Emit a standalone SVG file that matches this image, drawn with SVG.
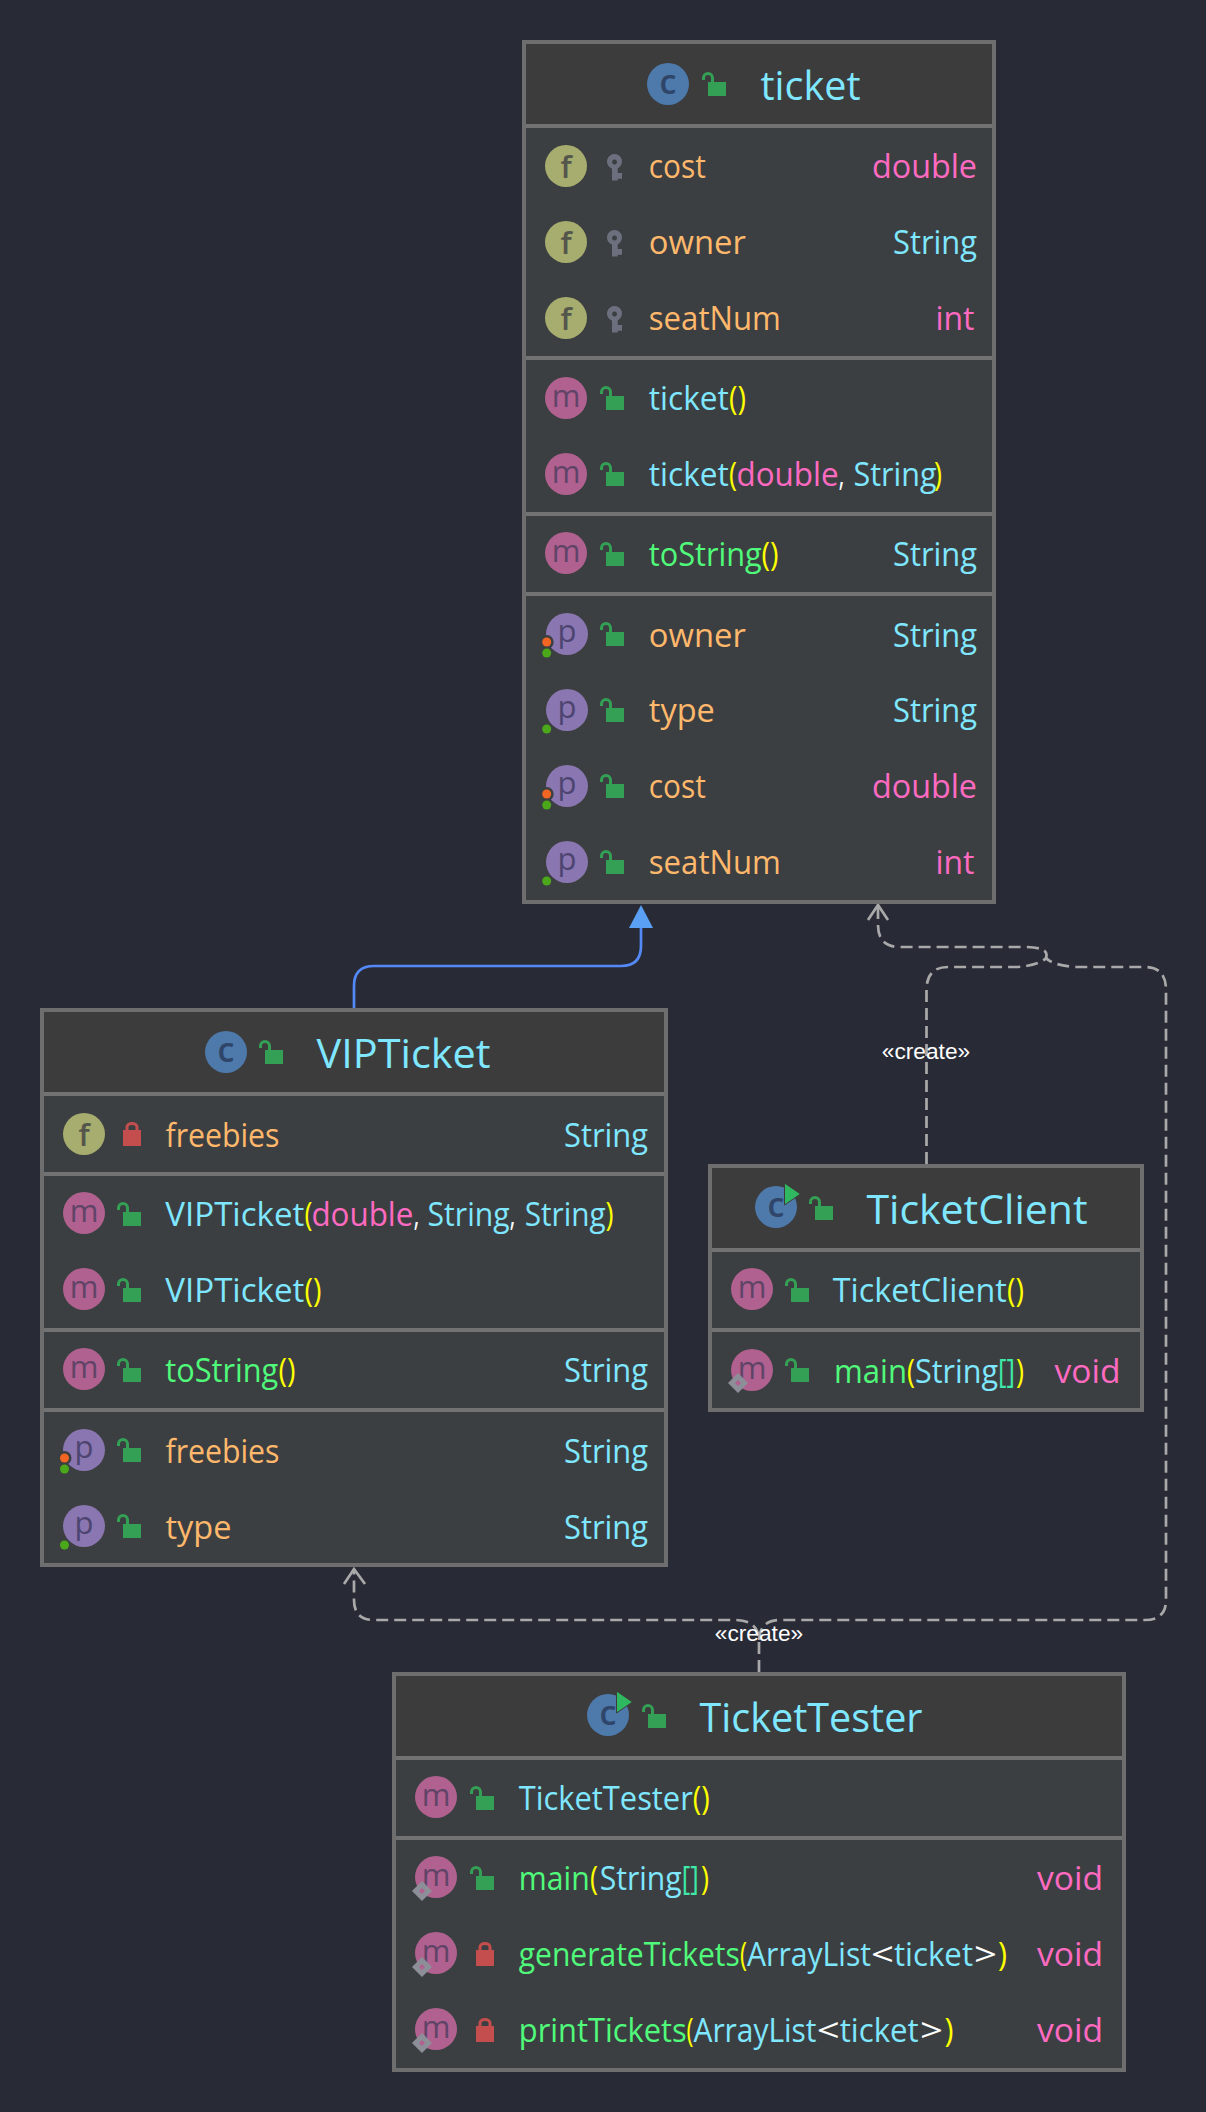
<svg xmlns="http://www.w3.org/2000/svg" width="1206" height="2112" viewBox="0 0 1206 2112">
<style>
text{font-family:"Open Sans","Noto Sans","Liberation Sans",sans-serif}
.box{fill:#3c3f41;stroke:#6e6e6e;stroke-width:4}
.hd{fill:#3c3c3c}
.dv{fill:#727272}
.b{font-size:33px}
.h{font-size:41px}
.ty{fill:#7fe7ff}
.pr{fill:#ff6ac1}
.fn{fill:#ffb86c}
.me{fill:#50fa7b}
.pa{fill:#ffff00}
.br{fill:#3de8a8}
.wh{fill:#ffffff}
.ci{font-size:31px;text-anchor:middle}
.cC{fill:#4d79ab}.lC{fill:#2f4569;font-size:34px;font-weight:600}
.cF{fill:#a6ad6e}.lF{fill:#54564c;font-weight:600}
.cM{fill:#b0618f}.lM{fill:#5f4468}
.cP{fill:#8a76b0}.lP{fill:#4d4470}
.lbl{font-family:"Liberation Sans",Arial,sans-serif;font-size:22.7px;fill:#ffffff;text-anchor:middle}
.dash{fill:none;stroke:#a9a9a9;stroke-width:2.7;stroke-dasharray:12 6}
.arr{fill:none;stroke:#a9a9a9;stroke-width:2.7}
.ext{fill:none;stroke:#548af7;stroke-width:2.7}
</style>
<defs>
<g id="open"><rect x="6" y="10" width="18" height="14" fill="#34a055"/><path d="M1.5,8V6a4.5,4.5 0 0 1 9,0V10" fill="none" stroke="#34a055" stroke-width="3"/></g>
<g id="priv"><rect x="0" y="8" width="18" height="16" fill="#c44d4d"/><path d="M4,8V5a5,3.6 0 0 1 10,0V8" fill="none" stroke="#c44d4d" stroke-width="3"/></g>
<g id="key"><path fill-rule="evenodd" fill="#6c707e" d="M7.5,0a7.5,7.5 0 1 1 -0.01,0ZM7.5,5.5a2.5,2.5 0 1 0 0.01,0Z"/><path fill="#6c707e" d="M5,14H10.7V19H15V24.7H10.7V26.5H5Z"/></g>
<g id="stat"><path d="M0,-10L10,0L0,10L-10,0Z" fill="#8c8f98"/><path d="M0,-3L3,0L0,3L-3,0Z" fill="#b0618f"/></g>
<g id="run"><path d="M-0.5,-1L15.5,10L-0.5,21Z" fill="#2fb85f" stroke="#3c3c3c" stroke-width="1"/></g>
<g id="get"><circle cx="0" cy="0" r="4.5" fill="#4aa81a"/></g>
<g id="set"><circle cx="0" cy="0" r="7" fill="#3c3f41"/><circle cx="0" cy="0" r="4.5" fill="#f26522"/></g>
</defs>
<rect width="1206" height="2112" fill="#282a36"/>
<g id="connectors">
<path class="ext" d="M354,1008V986Q354,966 374,966H621Q641,966 641,946V926"/>
<path d="M641,905L653,928H629Z" fill="#5aa0f5"/>
<path class="dash" d="M926.5,1164V990Q926.5,967 948,967H1018Q1040,965 1046,958Q1050,947 1025,947H900Q878,947 878,925V906"/>
<path class="dash" d="M759,1672V1640Q758,1620 735,1620H374Q354,1620 354,1600V1569"/>
<path class="dash" d="M759,1640Q760,1620 780,1620H1145Q1166,1620 1166,1600V990Q1166,967 1145,967H1075Q1052,965 1046,958"/>
<path class="arr" d="M868,920L878,905L888,920"/>
<path class="arr" d="M344,1584L354,1569L365,1584"/>
<text class="lbl" x="926" y="1059">«create»</text>
<text class="lbl" x="759" y="1641">«create»</text>
</g>

<g id="ticket">
<rect class="box" x="524" y="42" width="470" height="860"/>
<rect class="hd" x="526" y="44" width="466" height="80"/>
<rect class="dv" x="526" y="124" width="466" height="4"/>
<rect class="dv" x="526" y="356" width="466" height="4"/>
<rect class="dv" x="526" y="512" width="466" height="4"/>
<rect class="dv" x="526" y="592" width="466" height="4"/>
<circle class="cC" cx="668" cy="84" r="21"/><text class="ci lC" x="668" y="94">c</text>
<use href="#open" x="702" y="72"/>
<text class="h ty" x="760.5" y="100" textLength="100" lengthAdjust="spacingAndGlyphs">ticket</text>
<circle class="cF" cx="566" cy="166" r="21"/><text class="ci lF" x="566" y="178">f</text><use href="#key" x="607" y="154"/>
<text class="b fn" x="648.8" y="178" textLength="57" lengthAdjust="spacingAndGlyphs">cost</text>
<text class="b pr" x="872" y="178" textLength="105" lengthAdjust="spacingAndGlyphs">double</text>
<circle class="cF" cx="566" cy="242" r="21"/><text class="ci lF" x="566" y="254">f</text><use href="#key" x="607" y="230"/>
<text class="b fn" x="648.8" y="254" textLength="97" lengthAdjust="spacingAndGlyphs">owner</text>
<text class="b ty" x="893" y="254" textLength="84" lengthAdjust="spacingAndGlyphs">String</text>
<circle class="cF" cx="566" cy="318" r="21"/><text class="ci lF" x="566" y="330">f</text><use href="#key" x="607" y="306"/>
<text class="b fn" x="648.8" y="330" textLength="132" lengthAdjust="spacingAndGlyphs">seatNum</text>
<text class="b pr" x="935.5" y="330" textLength="39" lengthAdjust="spacingAndGlyphs">int</text>
<circle class="cM" cx="566" cy="398" r="21"/><text class="ci lM" x="566" y="407">m</text><use href="#open" x="600" y="386"/>
<text class="b ty" x="648.8" y="410" textLength="80" lengthAdjust="spacingAndGlyphs">ticket</text>
<text class="b pa" x="729" y="410" textLength="17" lengthAdjust="spacingAndGlyphs">()</text>
<circle class="cM" cx="566" cy="474" r="21"/><text class="ci lM" x="566" y="483">m</text><use href="#open" x="600" y="462"/>
<text class="b ty" x="648.8" y="486" textLength="80" lengthAdjust="spacingAndGlyphs">ticket</text>
<text class="b pa" x="729" y="486" textLength="8" lengthAdjust="spacingAndGlyphs">(</text>
<text class="b pr" x="736.5" y="486" textLength="102" lengthAdjust="spacingAndGlyphs">double</text>
<text class="b wh" x="838.5" y="486" textLength="6" lengthAdjust="spacingAndGlyphs">,</text>
<text class="b ty" x="853.5" y="486" textLength="83" lengthAdjust="spacingAndGlyphs">String</text>
<text class="b pa" x="934" y="486" textLength="8" lengthAdjust="spacingAndGlyphs">)</text>
<circle class="cM" cx="566" cy="553" r="21"/><text class="ci lM" x="566" y="562">m</text><use href="#open" x="600" y="542"/>
<text class="b me" x="648.8" y="566" textLength="113" lengthAdjust="spacingAndGlyphs">toString</text>
<text class="b pa" x="761.5" y="566" textLength="17" lengthAdjust="spacingAndGlyphs">()</text>
<text class="b ty" x="893" y="566" textLength="84" lengthAdjust="spacingAndGlyphs">String</text>
<circle class="cP" cx="567" cy="634" r="21"/><text class="ci lP" x="567" y="642">p</text><use href="#set" x="546.7" y="642"/><use href="#get" x="546.7" y="653"/><use href="#open" x="600" y="622"/>
<text class="b fn" x="648.8" y="647" textLength="97" lengthAdjust="spacingAndGlyphs">owner</text>
<text class="b ty" x="893" y="647" textLength="84" lengthAdjust="spacingAndGlyphs">String</text>
<circle class="cP" cx="567" cy="710" r="21"/><text class="ci lP" x="567" y="718">p</text><use href="#get" x="546.7" y="729"/><use href="#open" x="600" y="698"/>
<text class="b fn" x="648.8" y="722" textLength="66" lengthAdjust="spacingAndGlyphs">type</text>
<text class="b ty" x="893" y="722" textLength="84" lengthAdjust="spacingAndGlyphs">String</text>
<circle class="cP" cx="567" cy="786" r="21"/><text class="ci lP" x="567" y="794">p</text><use href="#set" x="546.7" y="794"/><use href="#get" x="546.7" y="805"/><use href="#open" x="600" y="774"/>
<text class="b fn" x="648.8" y="798" textLength="57" lengthAdjust="spacingAndGlyphs">cost</text>
<text class="b pr" x="872" y="798" textLength="105" lengthAdjust="spacingAndGlyphs">double</text>
<circle class="cP" cx="567" cy="862" r="21"/><text class="ci lP" x="567" y="870">p</text><use href="#get" x="546.7" y="881"/><use href="#open" x="600" y="850"/>
<text class="b fn" x="648.8" y="874" textLength="132" lengthAdjust="spacingAndGlyphs">seatNum</text>
<text class="b pr" x="935.5" y="874" textLength="39" lengthAdjust="spacingAndGlyphs">int</text>
</g>

<g id="VIPTicket">
<rect class="box" x="42" y="1010" width="624" height="555"/>
<rect class="hd" x="44" y="1012" width="620" height="80"/>
<rect class="dv" x="44" y="1092" width="620" height="4"/>
<rect class="dv" x="44" y="1172" width="620" height="4"/>
<rect class="dv" x="44" y="1328" width="620" height="4"/>
<rect class="dv" x="44" y="1408" width="620" height="4"/>
<circle class="cC" cx="226" cy="1052" r="21"/><text class="ci lC" x="226" y="1062">c</text>
<use href="#open" x="259" y="1040"/>
<text class="h ty" x="316.5" y="1068" textLength="174" lengthAdjust="spacingAndGlyphs">VIPTicket</text>
<circle class="cF" cx="84" cy="1134" r="21"/><text class="ci lF" x="84" y="1146">f</text><use href="#priv" x="123" y="1122"/>
<text class="b fn" x="165.5" y="1147" textLength="114" lengthAdjust="spacingAndGlyphs">freebies</text>
<text class="b ty" x="564" y="1147" textLength="84" lengthAdjust="spacingAndGlyphs">String</text>
<circle class="cM" cx="84" cy="1213" r="21"/><text class="ci lM" x="84" y="1222">m</text><use href="#open" x="117" y="1202"/>
<text class="b ty" x="165.3" y="1226" textLength="139" lengthAdjust="spacingAndGlyphs">VIPTicket</text>
<text class="b pa" x="304.5" y="1226" textLength="8" lengthAdjust="spacingAndGlyphs">(</text>
<text class="b pr" x="311.4" y="1226" textLength="102" lengthAdjust="spacingAndGlyphs">double</text>
<text class="b wh" x="413.5" y="1226" textLength="6" lengthAdjust="spacingAndGlyphs">,</text>
<text class="b ty" x="427.6" y="1226" textLength="82" lengthAdjust="spacingAndGlyphs">String</text>
<text class="b wh" x="509.5" y="1226" textLength="6" lengthAdjust="spacingAndGlyphs">,</text>
<text class="b ty" x="524.7" y="1226" textLength="81" lengthAdjust="spacingAndGlyphs">String</text>
<text class="b pa" x="605.5" y="1226" textLength="8" lengthAdjust="spacingAndGlyphs">)</text>
<circle class="cM" cx="84" cy="1289" r="21"/><text class="ci lM" x="84" y="1298">m</text><use href="#open" x="117" y="1278"/>
<text class="b ty" x="165.3" y="1302" textLength="139" lengthAdjust="spacingAndGlyphs">VIPTicket</text>
<text class="b pa" x="304.5" y="1302" textLength="17" lengthAdjust="spacingAndGlyphs">()</text>
<circle class="cM" cx="84" cy="1369" r="21"/><text class="ci lM" x="84" y="1378">m</text><use href="#open" x="117" y="1358"/>
<text class="b me" x="165.3" y="1382" textLength="113" lengthAdjust="spacingAndGlyphs">toString</text>
<text class="b pa" x="278.5" y="1382" textLength="17" lengthAdjust="spacingAndGlyphs">()</text>
<text class="b ty" x="564" y="1382" textLength="84" lengthAdjust="spacingAndGlyphs">String</text>
<circle class="cP" cx="84" cy="1450" r="21"/><text class="ci lP" x="84" y="1458">p</text><use href="#set" x="64.5" y="1458"/><use href="#get" x="64.5" y="1469"/><use href="#open" x="117" y="1438"/>
<text class="b fn" x="165.5" y="1463" textLength="114" lengthAdjust="spacingAndGlyphs">freebies</text>
<text class="b ty" x="564" y="1463" textLength="84" lengthAdjust="spacingAndGlyphs">String</text>
<circle class="cP" cx="84" cy="1526" r="21"/><text class="ci lP" x="84" y="1534">p</text><use href="#get" x="64.5" y="1545"/><use href="#open" x="117" y="1514"/>
<text class="b fn" x="165.5" y="1539" textLength="66" lengthAdjust="spacingAndGlyphs">type</text>
<text class="b ty" x="564" y="1539" textLength="84" lengthAdjust="spacingAndGlyphs">String</text>
</g>

<g id="TicketClient">
<rect class="box" x="710" y="1166" width="432" height="244"/>
<rect class="hd" x="712" y="1168" width="428" height="82"/>
<rect class="dv" x="712" y="1248" width="428" height="4"/>
<rect class="dv" x="712" y="1328" width="428" height="4"/>
<circle class="cC" cx="776" cy="1207" r="21"/><text class="ci lC" x="776" y="1217">c</text>
<use href="#run" x="785" y="1184"/>
<use href="#open" x="809" y="1196"/>
<text class="h ty" x="866.5" y="1224" textLength="221" lengthAdjust="spacingAndGlyphs">TicketClient</text>
<circle class="cM" cx="752" cy="1289" r="21"/><text class="ci lM" x="752" y="1298">m</text><use href="#open" x="785" y="1278"/>
<text class="b ty" x="832.8" y="1302" textLength="174" lengthAdjust="spacingAndGlyphs">TicketClient</text>
<text class="b pa" x="1007" y="1302" textLength="17" lengthAdjust="spacingAndGlyphs">()</text>
<circle class="cM" cx="752" cy="1370" r="21"/><text class="ci lM" x="752" y="1379">m</text><use href="#stat" x="738" y="1383"/><use href="#open" x="785" y="1358"/>
<text class="b me" x="834" y="1383" textLength="73" lengthAdjust="spacingAndGlyphs">main</text>
<text class="b pa" x="907" y="1383" textLength="8" lengthAdjust="spacingAndGlyphs">(</text>
<text class="b ty" x="915" y="1383" textLength="83" lengthAdjust="spacingAndGlyphs">String</text>
<text class="b br" x="998" y="1383" textLength="17" lengthAdjust="spacingAndGlyphs">[]</text>
<text class="b pa" x="1016" y="1383" textLength="8" lengthAdjust="spacingAndGlyphs">)</text>
<text class="b pr" x="1054.5" y="1383" textLength="66" lengthAdjust="spacingAndGlyphs">void</text>
</g>

<g id="TicketTester">
<rect class="box" x="394" y="1674" width="730" height="396"/>
<rect class="hd" x="396" y="1676" width="726" height="82"/>
<rect class="dv" x="396" y="1756" width="726" height="4"/>
<rect class="dv" x="396" y="1836" width="726" height="4"/>
<circle class="cC" cx="608" cy="1715" r="21"/><text class="ci lC" x="608" y="1725">c</text>
<use href="#run" x="617" y="1692"/>
<use href="#open" x="642" y="1704"/>
<text class="h ty" x="699.5" y="1732" textLength="223" lengthAdjust="spacingAndGlyphs">TicketTester</text>
<circle class="cM" cx="436" cy="1797" r="21"/><text class="ci lM" x="436" y="1806">m</text><use href="#open" x="470" y="1786"/>
<text class="b ty" x="518.8" y="1810" textLength="174" lengthAdjust="spacingAndGlyphs">TicketTester</text>
<text class="b pa" x="692.8" y="1810" textLength="17" lengthAdjust="spacingAndGlyphs">()</text>
<circle class="cM" cx="436" cy="1877" r="21"/><text class="ci lM" x="436" y="1886">m</text><use href="#stat" x="422" y="1891"/><use href="#open" x="470" y="1866"/>
<text class="b me" x="518.8" y="1890" textLength="71" lengthAdjust="spacingAndGlyphs">main</text>
<text class="b pa" x="590" y="1890" textLength="8" lengthAdjust="spacingAndGlyphs">(</text>
<text class="b ty" x="599.7" y="1890" textLength="82" lengthAdjust="spacingAndGlyphs">String</text>
<text class="b br" x="681.7" y="1890" textLength="17" lengthAdjust="spacingAndGlyphs">[]</text>
<text class="b pa" x="701" y="1890" textLength="8" lengthAdjust="spacingAndGlyphs">)</text>
<text class="b pr" x="1037" y="1890" textLength="66" lengthAdjust="spacingAndGlyphs">void</text>
<circle class="cM" cx="436" cy="1953" r="21"/><text class="ci lM" x="436" y="1962">m</text><use href="#stat" x="422" y="1967"/><use href="#priv" x="476" y="1942"/>
<text class="b me" x="518.8" y="1966" textLength="221" lengthAdjust="spacingAndGlyphs">generateTickets</text>
<text class="b pa" x="740" y="1966" textLength="7" lengthAdjust="spacingAndGlyphs">(</text>
<text class="b ty" x="747" y="1966" textLength="124" lengthAdjust="spacingAndGlyphs">ArrayList</text>
<text class="b wh" x="871" y="1966" textLength="23" lengthAdjust="spacingAndGlyphs">&lt;</text>
<text class="b ty" x="894" y="1966" textLength="79" lengthAdjust="spacingAndGlyphs">ticket</text>
<text class="b wh" x="974" y="1966" textLength="23" lengthAdjust="spacingAndGlyphs">&gt;</text>
<text class="b pa" x="998" y="1966" textLength="9" lengthAdjust="spacingAndGlyphs">)</text>
<text class="b pr" x="1037" y="1966" textLength="66" lengthAdjust="spacingAndGlyphs">void</text>
<circle class="cM" cx="436" cy="2029" r="21"/><text class="ci lM" x="436" y="2038">m</text><use href="#stat" x="422" y="2043"/><use href="#priv" x="476" y="2018"/>
<text class="b me" x="518.8" y="2042" textLength="168" lengthAdjust="spacingAndGlyphs">printTickets</text>
<text class="b pa" x="686.5" y="2042" textLength="7" lengthAdjust="spacingAndGlyphs">(</text>
<text class="b ty" x="693.5" y="2042" textLength="123" lengthAdjust="spacingAndGlyphs">ArrayList</text>
<text class="b wh" x="816.7" y="2042" textLength="23" lengthAdjust="spacingAndGlyphs">&lt;</text>
<text class="b ty" x="839.7" y="2042" textLength="79" lengthAdjust="spacingAndGlyphs">ticket</text>
<text class="b wh" x="920" y="2042" textLength="23" lengthAdjust="spacingAndGlyphs">&gt;</text>
<text class="b pa" x="944.5" y="2042" textLength="9" lengthAdjust="spacingAndGlyphs">)</text>
<text class="b pr" x="1037" y="2042" textLength="66" lengthAdjust="spacingAndGlyphs">void</text>
</g>
</svg>
